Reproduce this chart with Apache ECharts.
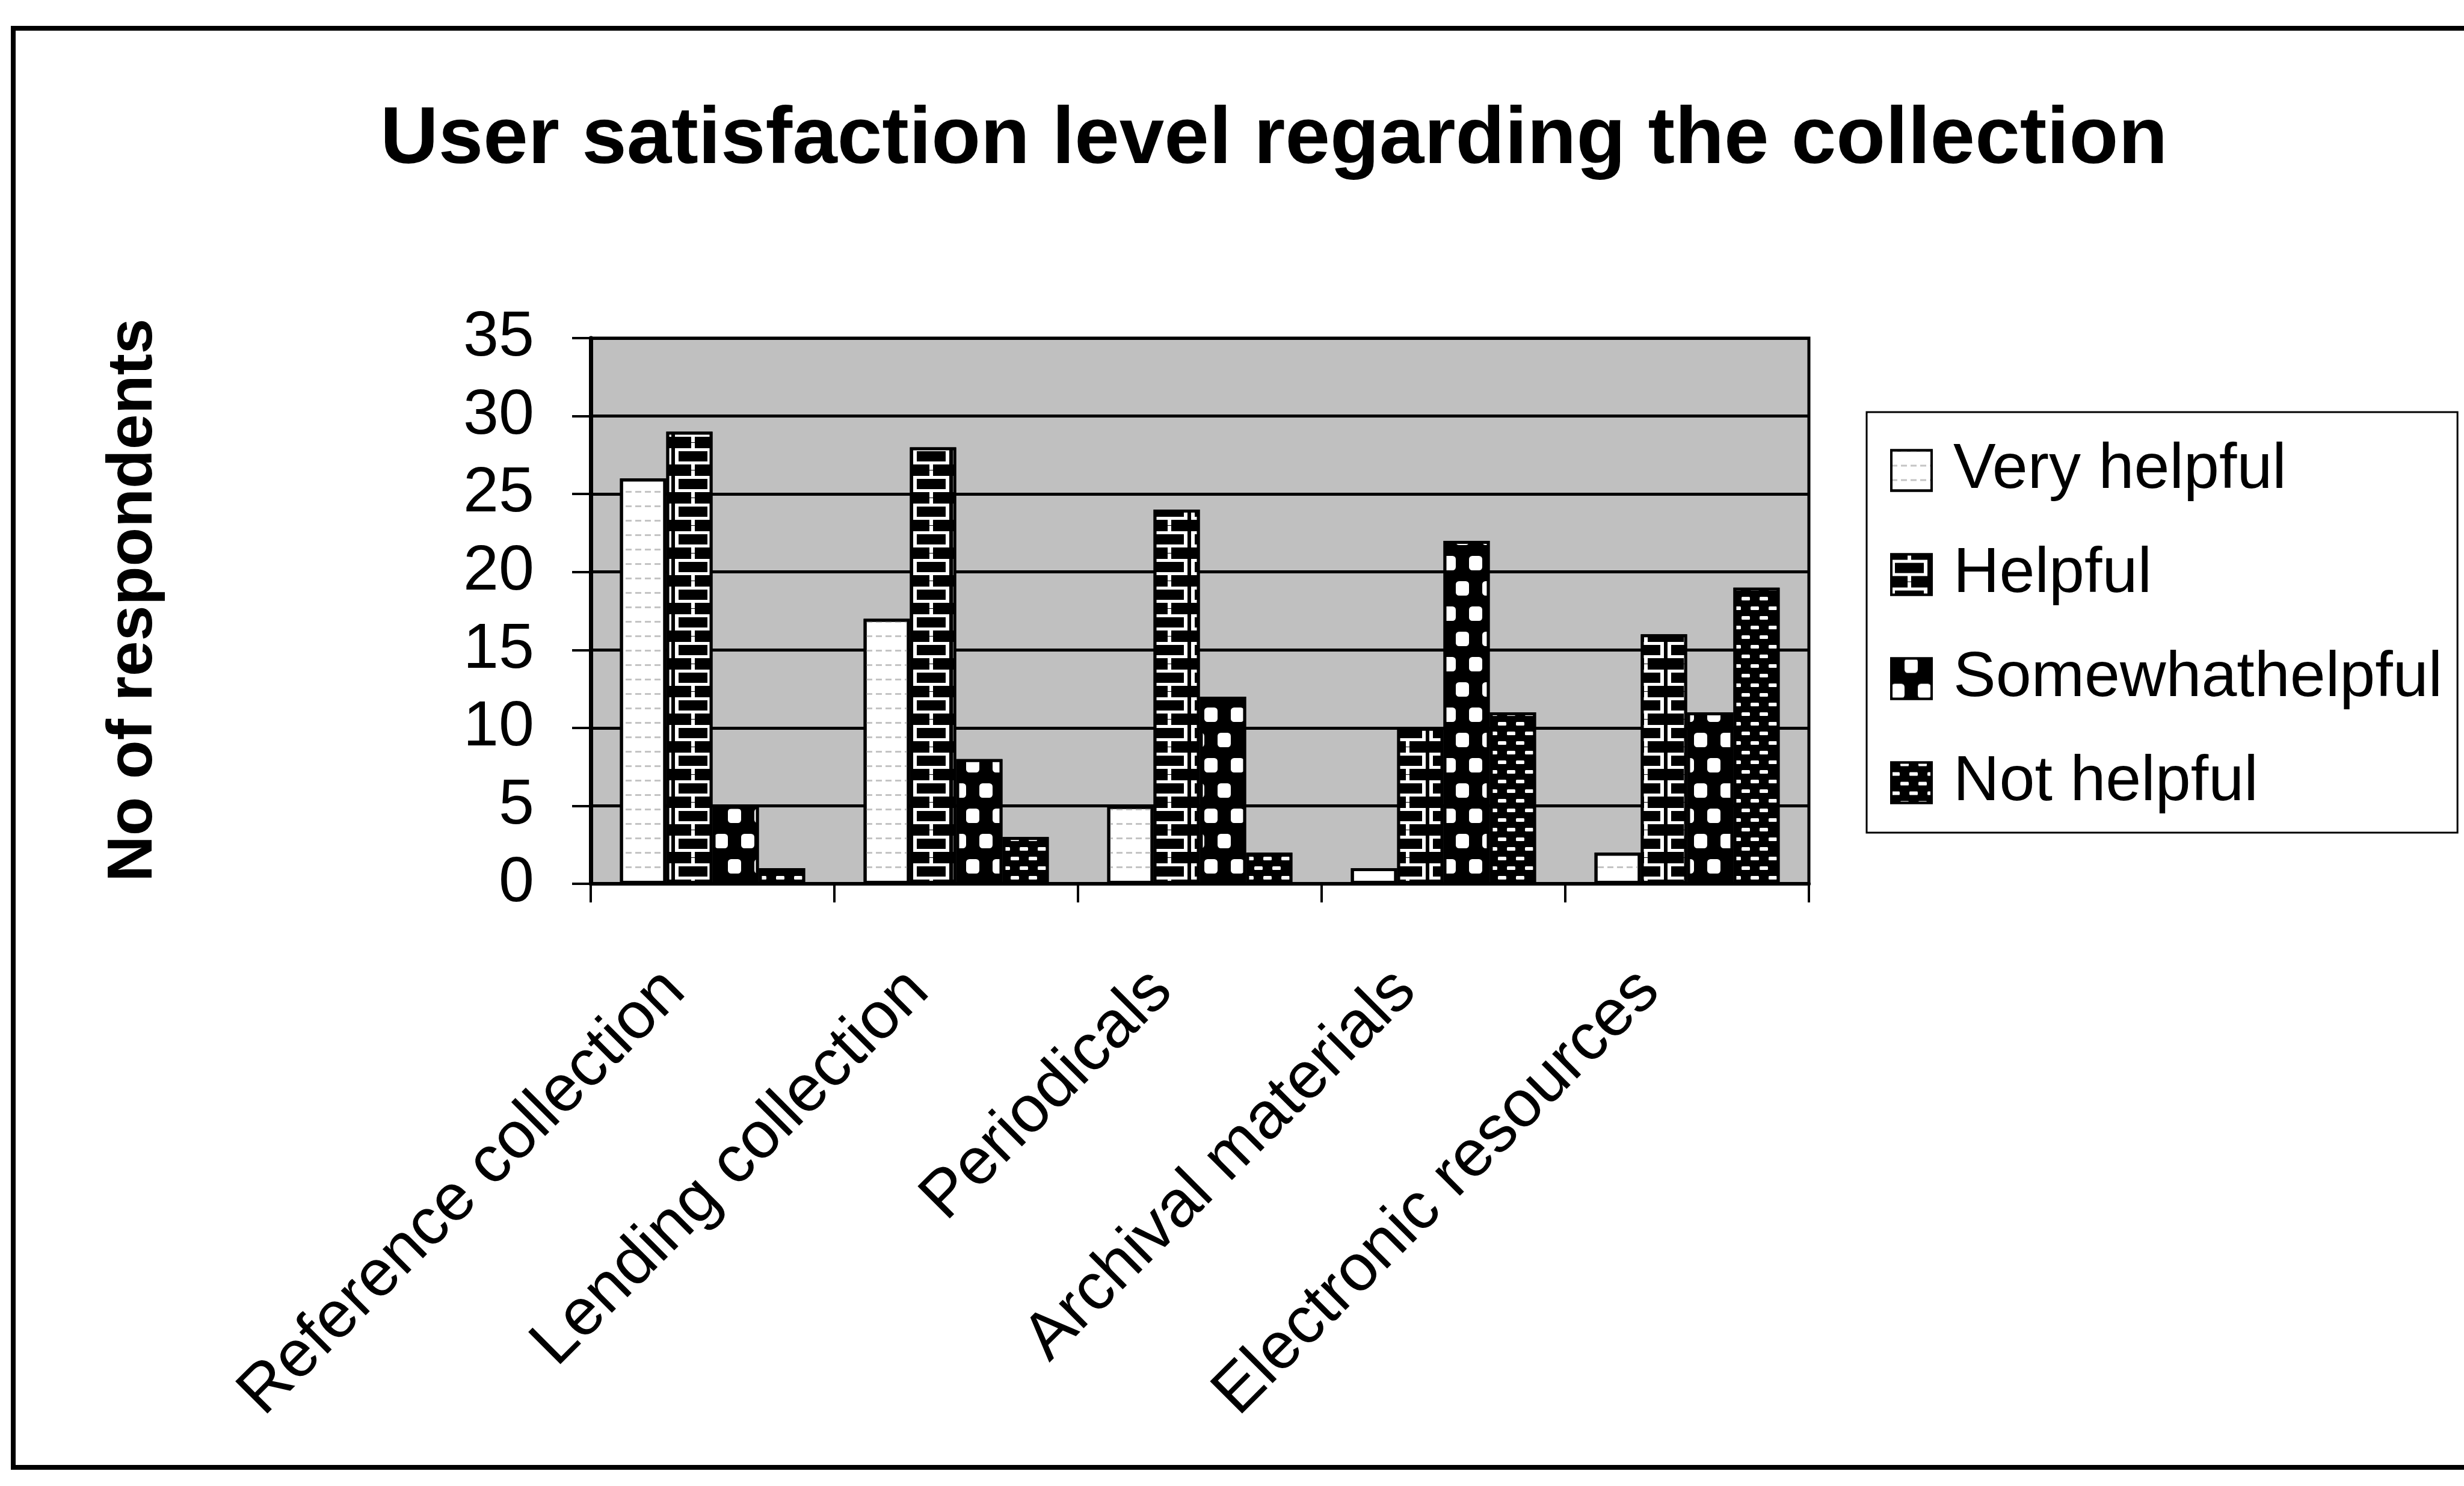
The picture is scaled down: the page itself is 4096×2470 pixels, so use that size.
<!DOCTYPE html>
<html>
<head>
<meta charset="utf-8">
<title>User satisfaction level regarding the collection</title>
<script src="https://cdn.jsdelivr.net/npm/echarts@6.0.0/dist/echarts.min.js"></script>
<style>
  html, body { margin: 0; padding: 0; background: #fff; }
  #chart { width: 4096px; height: 2470px; }
</style>
</head>
<body>
<div id="chart"></div>
<script>
const categories = ['Reference collection', 'Lending collection', 'Periodicals', 'Archival materials', 'Electronic resources'];
const seriesNames = ['Very helpful', 'Helpful', 'Somewhathelpful', 'Not helpful'];

const veryHelpful = [26, 17, 5, 1, 2];
const helpful = [29, 28, 24, 10, 16];
const somewhatHelpful = [5, 8, 12, 22, 11];
const notHelpful = [1, 3, 2, 11, 19];

const yMin = 0;
const yMax = 35;
const yStep = 5;

const FONT = '"Liberation Sans", Arial, Helvetica, sans-serif';

// fill patterns, roughly like the old b/w excel print
const brick = 'path://M0,9H60V36H0Z M6,14V31H54V14Z M27,0H33V9H27Z M27,36H33V45H27Z';
const looks = [
  { color: '#ffffff', decal: { symbol: 'rect', symbolKeepAspect: false, color: '#c4c4c4', dashArrayX: [10, 6], dashArrayY: [3, 21] } },
  { color: '#000000', decal: { symbol: brick, symbolKeepAspect: false, color: '#ffffff', dashArrayX: [60, 6], dashArrayY: [45, 1] } },
  { color: '#000000', decal: { symbol: 'roundRect', symbolKeepAspect: false, color: '#ffffff', dashArrayX: [[22, 22], [0, 22, 22, 0]], dashArrayY: [24, 18] } },
  { color: '#000000', decal: { symbol: 'roundRect', symbolKeepAspect: false, color: '#ffffff', dashArrayX: [[14, 16], [0, 15, 14, 1]], dashArrayY: [6, 10] } }
];

const values = [veryHelpful, helpful, somewhatHelpful, notHelpful];

const chart = echarts.init(document.getElementById('chart'), null, { renderer: 'canvas' });

const option = {
  backgroundColor: '#ffffff',
  animation: false,
  title: {
    text: 'User satisfaction level regarding the collection',
    left: 632,
    top: 167,
    padding: 0,
    textStyle: { fontFamily: FONT, fontSize: 134, fontWeight: 'bold', color: '#000', lineHeight: 134 }
  },
  graphic: [{
    type: 'rect',
    z: -10,
    shape: { x: 22, y: 47, width: 4200, height: 2392 },
    style: { fill: 'none', stroke: '#000', lineWidth: 8 }
  }],
  legend: {
    orient: 'vertical',
    left: 3103,
    top: 685,
    padding: [44, 25, 30, 39],
    itemWidth: 67,
    itemHeight: 67,
    itemGap: 67,
    icon: 'rect',
    backgroundColor: '#fff',
    borderColor: '#000',
    borderWidth: 3,
    itemStyle: { borderColor: '#000', borderWidth: 4 },
    textStyle: { fontFamily: FONT, fontSize: 106, color: '#000', lineHeight: 67, padding: [0, 0, 0, 31] },
    data: seriesNames
  },
  grid: {
    show: true,
    left: 982,
    top: 562,
    width: 2025,
    height: 907,
    backgroundColor: '#c0c0c0',
    borderColor: '#000',
    borderWidth: 5
  },
  xAxis: {
    type: 'category',
    data: categories,
    axisLine: { lineStyle: { color: '#000', width: 6 } },
    axisTick: { show: true, length: 31, lineStyle: { color: '#000', width: 4 } },
    axisLabel: {
      interval: 0,
      rotate: 45,
      margin: 98,
      padding: [0, 89, 0, 0],
      fontFamily: FONT,
      fontSize: 110,
      color: '#000'
    },
    splitLine: { show: false }
  },
  yAxis: {
    type: 'value',
    min: yMin,
    max: yMax,
    interval: yStep,
    name: 'No of respondents',
    nameLocation: 'middle',
    nameRotate: 90,
    nameGap: 706,
    nameTextStyle: { fontFamily: FONT, fontSize: 106, fontWeight: 'bold', color: '#000', lineHeight: 106, padding: [0, 0, 0, 36] },
    axisLine: { show: true, lineStyle: { color: '#000', width: 7 } },
    axisTick: { show: true, length: 31, lineStyle: { color: '#000', width: 4 } },
    axisLabel: { margin: 94, fontFamily: FONT, fontSize: 106, color: '#000' },
    splitLine: { show: true, lineStyle: { color: '#000', width: 5 } }
  },
  series: seriesNames.map((name, i) => ({
    name: name,
    type: 'bar',
    data: values[i],
    barGap: '0%',
    barCategoryGap: '24%',
    itemStyle: {
      color: looks[i].color,
      borderColor: '#000',
      borderWidth: 5,
      decal: looks[i].decal
    }
  }))
};

chart.setOption(option);
</script>
</body>
</html>
